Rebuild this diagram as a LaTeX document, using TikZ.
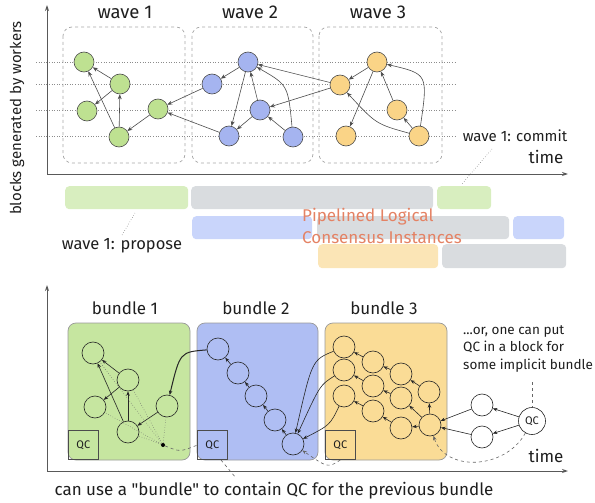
\documentclass[tikz,border=0pt]{standalone}
\usepackage{fontspec}
\setmainfont{Fira Sans}
\newfontfamily\capfont{Fira Sans}
\usetikzlibrary{arrows.meta,calc}
\definecolor{ngreen}{RGB}{190,225,145}
\definecolor{nblue}{RGB}{165,180,240}
\definecolor{nyellow}{RGB}{250,212,135}
\definecolor{bgreen}{RGB}{198,230,160}
\definecolor{bblue}{RGB}{175,190,243}
\definecolor{byellow}{RGB}{250,220,150}
\definecolor{barG}{RGB}{216,238,191}
\definecolor{barB}{RGB}{201,213,251}
\definecolor{barY}{RGB}{251,229,182}
\definecolor{barK}{RGB}{217,220,223}
\definecolor{txtc}{RGB}{30,30,30}
\definecolor{orng}{RGB}{228,130,100}
\begin{document}
\begin{tikzpicture}[x=1pt,y=-1pt,
 every node/.style={text=txtc},
 axis/.style={draw=black!65, line width=1pt, -{Stealth[length=6pt,width=4pt]}},
 gridl/.style={draw=black!45, dotted, line width=0.6pt},
 wavebox/.style={draw=black!35, dashed, rounded corners=9pt, line width=0.7pt},
 dn/.style={circle, draw=black!70, line width=0.6pt, minimum size=20pt, inner sep=0pt},
 gn/.style={dn, fill=ngreen}, bn/.style={dn, fill=nblue}, yn/.style={dn, fill=nyellow},
 wn/.style={circle, draw=black!85, line width=0.6pt, minimum size=22pt, inner sep=0pt},
 arr/.style={draw=black!70, line width=0.6pt, -{Stealth[length=5pt,width=4pt]}},
 arrb/.style={draw=black!85, line width=0.6pt, -{Stealth[length=4.5pt,width=3.5pt]}},
 dotl/.style={draw=black!60, dotted, line width=0.5pt},
 dashl/.style={draw=black!60, dashed, line width=0.6pt},
 barn/.style={rounded corners=4pt, inner sep=0pt, anchor=north west, minimum height=23pt},
 bundle/.style={draw=black!40, line width=0.7pt, rounded corners=8pt},
 qcbox/.style={draw=black!70, line width=0.6pt, anchor=south west, minimum width=30pt, minimum height=29pt, inner sep=0pt, font=\fontsize{11}{13}\selectfont},
 lbl/.style={font=\fontsize{17}{20}\selectfont},
 wlbl/.style={font=\fontsize{18.5}{21}\selectfont},
 mid/.style={font=\fontsize{15}{18}\selectfont},
 sml/.style={font=\fontsize{13.5}{17.5}\selectfont}
]
\useasboundingbox (0,0) rectangle (595,503);

% ---------------- top section ----------------
\coordinate (O1) at (47,174);
\coordinate (Y1) at (47,5);
\coordinate (X1) at (568,174);
\foreach \yy in {62,84,110,136} \draw[gridl] (36,\yy) -- (457,\yy);
\draw[wavebox] (63,27) rectangle (185,163);
\draw[wavebox] (192,27) rectangle (313,163);
\draw[wavebox] (319,27) rectangle (442,163);
\draw[axis] (O1) -- (Y1);
\draw[axis] (O1) -- (X1);

\node[mid, rotate=90] (ylab) at (17,118) {blocks generated by workers};
\node[wlbl] (w1) at (125,12) {wave 1};
\node[wlbl] (w2) at (250,12) {wave 2};
\node[wlbl] (w3) at (378,12) {wave 3};

\node[gn] (A1) at (84,62) {};
\node[gn] (A2) at (120,84) {};
\node[gn] (A3) at (87,111) {};
\node[gn] (A4) at (119,137) {};
\node[gn] (A5) at (158,109) {};

\node[bn] (B1) at (248,62) {};
\node[bn] (B2) at (212,84) {};
\node[bn] (B3) at (260,110) {};
\node[bn] (B4) at (229,136) {};
\node[bn] (B5) at (293,137) {};

\node[yn] (C1) at (377,62) {};
\node[yn] (C2) at (340,85) {};
\node[yn] (C3) at (397,110) {};
\node[yn] (C4) at (346,136) {};
\node[yn] (C5) at (419,136) {};

\draw[arr] (A2) -- (A1);
\draw[arr] (A2) -- (A3);
\draw[arr] (A4) -- (A1);
\draw[arr] (A4) -- (A2);
\draw[arr] (A5) -- (A4);
\draw[arr] (B2) -- (A5);
\draw[arr] (B4) -- (A5);
\draw[arr] (B1) -- (B2);
\draw[arr] (B1) -- (B4);
\draw[arr] (B3) -- (B1);
\draw[arr] (B3) -- (B4);
\draw[arr] (B5) -- (B3);
\draw[arr] (B5) .. controls (288,85) .. (B1);
\draw[arr] (C2) -- (B1);
\draw[arr] (C2) -- (B3);
\draw[arr] (C1) -- (C2);
\draw[arr] (C1) -- (C4);
\draw[arr] (C3) -- (C1);
\draw[arr] (C5) -- (C3);
\draw[arr] (C5) .. controls (428,74) .. (C1);
\draw[arr] (C5) .. controls (376,124) .. (C2);

\node[mid] (commit) at (515,136) {wave 1: commit};
\node[lbl] (time1) at (546,157) {time};

% ---------------- bars ----------------
\node[barn, fill=barG, minimum width=123pt] (g1) at (65,186) {};
\node[barn, fill=barK, minimum width=242pt] (k1) at (191,186) {};
\node[barn, fill=barG, minimum width=54pt] (g2) at (437,186) {};
\node[barn, fill=barB, minimum width=120pt] (b1) at (192,216) {};
\node[barn, fill=barK, minimum width=192pt] (k2) at (317,216) {};
\node[barn, fill=barB, minimum width=51pt] (b2) at (513,216) {};
\node[barn, fill=barY, minimum width=120pt, minimum height=24pt] (y1) at (318,244) {};
\node[barn, fill=barK, minimum width=124pt, minimum height=24pt] (k3) at (442,244) {};

\node[font=\fontsize{17}{22}\selectfont, text=orng, align=left, anchor=west, inner sep=0pt] (pipe) at (302,226) {Pipelined Logical\\Consensus Instances};

\node[font=\fontsize{16.5}{19}\selectfont] (propose) at (122,246) {wave 1: propose};
\coordinate (pp) at (135,213);
\coordinate (cm) at (492,149);
\coordinate (cg) at (462,184);
\draw[dotl] (pp) -- (propose.north);
\draw[dotl] (cm) -- (cg);

% ---------------- bottom section ----------------
\coordinate (O2) at (47,471);
\coordinate (Y2) at (47,285);
\coordinate (X2) at (568,471);
\draw[axis] (O2) -- (Y2);
\draw[axis] (O2) -- (X2);

\node[lbl] (bl1) at (125,308) {bundle 1};
\node[lbl] (bl2) at (256,308) {bundle 2};
\node[lbl] (bl3) at (384,308) {bundle 3};

\draw[bundle, fill=bgreen] (68,323) rectangle (190,460);
\draw[bundle, fill=bblue] (197,323) rectangle (318,460);
\draw[bundle, fill=byellow] (325,323) rectangle (447,460);

\node[qcbox] (QC1) at (68,460) {QC};
\node[qcbox] (QC2) at (197,460) {QC};
\node[qcbox] (QC3) at (325,460) {QC};

\node[wn] (D1) at (93,353) {};
\node[wn] (D2) at (128,380) {};
\node[wn] (D3) at (95,407) {};
\node[wn] (D4) at (128,432) {};
\node[wn] (D5) at (167,406) {};
\node[circle, fill=black, inner sep=0pt, minimum size=4pt] (dot) at (163,445) {};

\node[wn] (E1) at (218,349) {};
\node[wn] (E2) at (238,373) {};
\node[wn] (E3) at (256,396) {};
\node[wn] (E4) at (275,420) {};
\node[wn] (E5) at (293,444) {};

\node[wn] (Fa1) at (344,347) {};
\node[wn] (Fa2) at (373,362) {};
\node[wn] (Fa3) at (401,374) {};
\node[wn] (Fa4) at (429,392) {};
\node[wn] (Fb1) at (344,370) {};
\node[wn] (Fb2) at (373,386) {};
\node[wn] (Fb3) at (401,398) {};
\node[wn] (Fc1) at (344,396) {};
\node[wn] (Fc2) at (373,411) {};
\node[wn] (Fc3) at (401,428) {};
\node[wn] (F) at (430,425) {};

\node[wn] (G1) at (482,405) {};
\node[wn] (G2) at (482,437) {};
\node[circle, draw=black!85, line width=0.6pt, minimum size=27pt, inner sep=0pt, font=\fontsize{11}{13}\selectfont] (QCn) at (532,421) {QC};

% bundle 1 edges
\draw[arrb] (D2) -- (D1);
\draw[arrb] (D2) -- (D3);
\draw[arrb] (D4) -- (D1);
\draw[arrb] (D4) -- (D2);
\draw[arrb] (D5) -- (D4);
\foreach \n in {D1,D2,D3,D4,D5} \draw[dotl] (dot) -- (\n);
\draw[arrb, line width=1pt] (E1) .. controls (180,352) .. (D5);
\draw[dashl] (dot) .. controls (180,452) .. (QC2.west);

% bundle 2 edges
\draw[arrb] (E2) -- (E1);
\draw[arrb] (E3) -- (E2);
\draw[arrb] (E4) -- (E3);
\draw[arrb] (E5) -- (E4);
\draw[arrb] (Fa1) .. controls (312,360) .. (E5);
\draw[arrb] (Fb1) .. controls (320,385) .. (E5);
\draw[arrb] (Fc1) .. controls (330,425) .. (E5);
\draw[dashl, -{Stealth[length=4.5pt,width=3.5pt]}] (QC3.south) .. controls (328,468) .. (E5);
\coordinate (capt) at (236,478);
\draw[dashl] ([xshift=24pt]QC2.south west) -- (capt);

% bundle 3 edges
\draw[arrb] (Fa2) -- (Fa1);
\draw[arrb] (Fa3) -- (Fa2);
\draw[arrb] (Fa4) -- (Fa3);
\draw[arrb] (F) -- (Fa4);
\draw[arrb] (Fb2) -- (Fb1);
\draw[arrb] (Fb3) -- (Fb2);
\draw[arrb] (F) -- (Fb3);
\draw[arrb] (Fc2) -- (Fc1);
\draw[arrb] (Fc3) -- (Fc2);
\draw[arrb] (F) -- (Fc3);

% right side
\draw[arrb] (QCn) -- (G1);
\draw[arrb] (QCn) -- (G2);
\draw[arrb] (G1) -- (F);
\draw[arrb] (G2) -- (F);
\draw[dashl, -{Stealth[length=4.5pt,width=3.5pt]}] (QCn) .. controls (505,470) and (445,472) .. (F);

\node[sml, align=left, anchor=north west, inner sep=0pt] (note) at (463,325) {...or, one can put\\QC in a block for\\some implicit bundle};
\coordinate (nt) at (532,382);
\draw[dashl] (nt) -- (QCn);

\node[lbl] (time2) at (546,456) {time};
\node[font=\capfont\fontsize{17}{20}\selectfont] (caption) at (274,491) {can use a "bundle" to contain QC for the previous bundle};
\end{tikzpicture}
\end{document}
